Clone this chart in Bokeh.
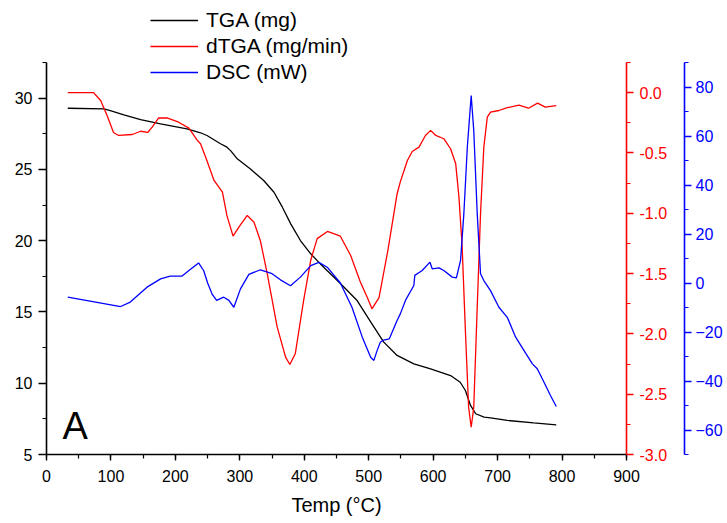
from bokeh.plotting import figure
from bokeh.models import (Range1d, LinearAxis, SingleIntervalTicker, PrintfTickFormatter,
                          Legend, LegendItem, Label)
from bokeh.embed import file_html
from bokeh.resources import INLINE

# ---- data ----
tga_T = [33, 89, 99, 120, 146, 177, 218, 239, 249, 270, 280, 286, 296, 316, 337, 353, 366,
         379, 394, 410, 425, 456, 482, 503, 523, 544, 570, 596, 627, 642, 650, 658, 666,
         679, 689, 715, 756, 791]
tga_v = [29.29, 29.25, 29.13, 28.83, 28.5, 28.2, 27.85, 27.57, 27.38, 26.8, 26.56, 26.3,
         25.74, 25.04, 24.22, 23.4, 22.35, 21.18, 20.01, 19.08, 18.37, 17.0, 15.8, 14.3,
         12.9, 11.95, 11.36, 11.01, 10.54, 10.07, 9.49, 8.44, 7.86, 7.62, 7.57, 7.39, 7.22,
         7.08]

dtga_T = [33, 73, 84, 94, 104, 112, 133, 146, 157, 164, 174, 187, 205, 221, 234, 239, 247,
          260, 273, 280, 289.5, 299, 311.5, 322, 332, 342.5, 358, 371, 377.6, 386, 399, 410,
          420, 436, 456, 472, 487, 498, 505, 516, 530, 544, 549, 560, 567.5, 578, 588, 596,
          604, 616.5, 627, 635, 640, 645, 650, 655, 659, 663, 668, 673.5, 678.6, 684, 689,
          702, 715, 733, 748, 762, 774, 791]
dtga_v = [0.0, 0.0, -0.065, -0.19, -0.33, -0.355, -0.347, -0.32, -0.33, -0.286, -0.21,
          -0.21, -0.245, -0.294, -0.396, -0.424, -0.535, -0.728, -0.825, -1.02, -1.19,
          -1.11, -1.018, -1.074, -1.23, -1.50, -1.944, -2.193, -2.254, -2.165, -1.723,
          -1.39, -1.21, -1.151, -1.19, -1.35, -1.57, -1.70, -1.792, -1.70, -1.30, -0.84,
          -0.74, -0.562, -0.488, -0.452, -0.355, -0.313, -0.355, -0.382, -0.465, -0.59,
          -0.866, -1.28, -1.972, -2.608, -2.774, -2.608, -1.833, -1.004, -0.452, -0.203,
          -0.162, -0.148, -0.125, -0.104, -0.129, -0.087, -0.12, -0.108]

dsc_T = [33, 115, 130, 156, 177, 192, 210, 221, 236, 244, 250, 257, 264, 275, 283, 290.7,
         301, 314, 332, 350, 363, 378.6, 394, 410, 422.6, 435.6, 456, 474, 490, 503, 508,
         513, 518, 523, 532, 544, 549, 557, 570, 571.5, 583, 595, 598.5, 609, 616.5, 629.6,
         636, 642.5, 647.6, 653, 659, 663, 668.4, 673.5, 678.6, 689, 702, 715, 728, 741,
         754, 761.5, 772, 782, 791]
dsc_v = [-5.8, -9.6, -7.8, -1.7, 1.7, 2.8, 2.8, 5.1, 8.2, 5.0, 0.0, -4.5, -7.1, -5.8, -7.1,
         -9.9, -2.4, 3.5, 5.4, 3.8, 1.3, -1.1, 2.4, 7.1, 8.4, 6.45, 0.0, -9.9, -22.1, -30.3,
         -31.6, -27.6, -24.2, -23.3, -22.8, -15.3, -12.6, -7.1, -1.0, 3.1, 5.1, 8.5, 5.8,
         6.2, 5.1, 2.4, 2.1, 9.2, 28.2, 55.4, 76.5, 62.2, 28.2, 3.8, 1.0, -3.1, -9.9, -14.0,
         -22.1, -27.6, -33.0, -35.0, -40.5, -45.9, -50.4]

series_labels = ["TGA (mg)", "dTGA (mg/min)", "DSC (mW)"]
x_range = (0, 900)
tga_axis = (5, 32.5)
dtga_axis = (-3.0, 0.25)
dsc_axis = (-70, 90)

FONT = "Liberation Sans"
RED = "#ff0000"
BLUE = "#0000ff"

AXIS_H = 392          # pixel height of the drawn axes
FRAME_H = 450         # frame extends above the axes to hold the legend
ext = FRAME_H / AXIS_H

def extended(lo_hi):
    lo, hi = lo_hi
    return Range1d(lo, lo + (hi - lo) * ext)

p = figure(frame_width=580, frame_height=FRAME_H, output_backend="svg", toolbar_location=None,
           x_range=Range1d(*x_range), y_range=extended(tga_axis),
           min_border_left=46, min_border_top=4, min_border_bottom=61, min_border_right=0)
p.outline_line_color = None
p.grid.visible = False
p.background_fill_color = "white"
p.border_fill_color = "white"

p.extra_y_ranges = {"dtga": extended(dtga_axis), "dsc": extended(dsc_axis)}

r_tga = p.line(tga_T, tga_v, line_color="black", line_width=1.3)
r_dtga = p.line(dtga_T, dtga_v, line_color=RED, line_width=1.3, y_range_name="dtga")
r_dsc = p.line(dsc_T, dsc_v, line_color=BLUE, line_width=1.3, y_range_name="dsc")

def style(ax, color, fs="16px"):
    ax.axis_line_color = color
    ax.axis_line_width = 1.6
    ax.major_tick_line_color = color
    ax.minor_tick_line_color = color
    ax.major_tick_line_width = 1.4
    ax.minor_tick_line_width = 1.2
    ax.major_tick_out = 7
    ax.major_tick_in = 0
    ax.minor_tick_out = 4
    ax.minor_tick_in = 0
    ax.major_label_text_color = color
    ax.major_label_text_font = FONT
    ax.major_label_text_font_size = fs
    ax.major_label_standoff = 5

xa = p.xaxis[0]
xa.ticker = SingleIntervalTicker(interval=100, num_minor_ticks=2)
style(xa, "black")
xa.major_tick_out = 6
xa.major_label_standoff = 9
xa.axis_label = "Temp (°C)"
xa.axis_label_text_font = FONT
xa.axis_label_text_font_size = "20px"
xa.axis_label_text_font_style = "normal"
xa.axis_label_text_color = "black"
xa.axis_label_standoff = 9

ya = p.yaxis[0]
ya.ticker = SingleIntervalTicker(interval=5, num_minor_ticks=2)
ya.bounds = tga_axis
style(ya, "black")
ya.major_tick_out = 8
ya.major_label_standoff = 6

ax_red = LinearAxis(y_range_name="dtga", bounds=dtga_axis,
                    ticker=SingleIntervalTicker(interval=0.5, num_minor_ticks=2),
                    formatter=PrintfTickFormatter(format="%.1f"))
style(ax_red, RED)
ax_red.major_label_standoff = 6
ax_red.axis_label = "\u00a0"
ax_red.axis_label_text_font_size = "10px"
ax_red.axis_label_standoff = 0
p.add_layout(ax_red, "right")

ax_blue = LinearAxis(y_range_name="dsc", bounds=dsc_axis,
                     ticker=SingleIntervalTicker(interval=20, num_minor_ticks=2))
style(ax_blue, BLUE)
ax_blue.major_label_standoff = 4
p.add_layout(ax_blue, "right")

legend = Legend(items=[LegendItem(label=series_labels[0], renderers=[r_tga]),
                       LegendItem(label=series_labels[1], renderers=[r_dtga]),
                       LegendItem(label=series_labels[2], renderers=[r_dsc])],
                location=(104, 370), orientation="vertical",
                label_text_font=FONT, label_text_font_size="21px", label_text_color="black",
                glyph_width=48, glyph_height=20, label_height=20, spacing=2,
                padding=0, margin=0, border_line_color=None,
                background_fill_alpha=0, label_standoff=8)
p.add_layout(legend, "center")

p.add_layout(Label(x=25, y=7.0, text="A", text_font=FONT, text_font_size="38px",
                   text_baseline="alphabetic", text_color="black"))

open("out.html", "w").write(file_html(p, INLINE))
